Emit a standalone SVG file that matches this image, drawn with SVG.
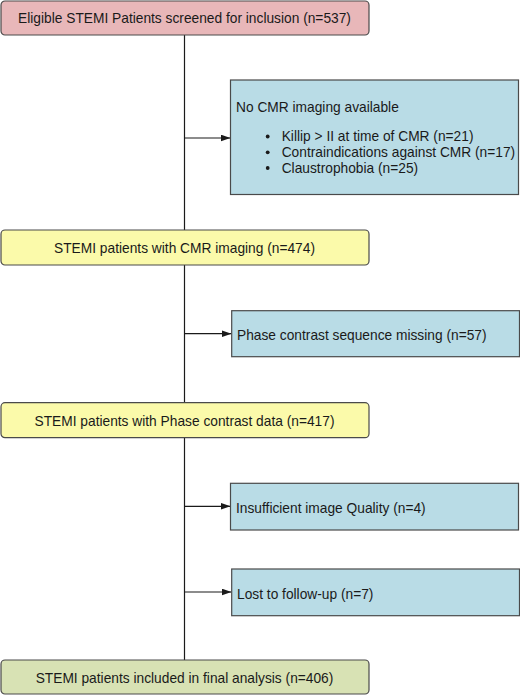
<svg xmlns="http://www.w3.org/2000/svg" width="520" height="695" viewBox="0 0 520 695">
<style>
text{font-family:"Liberation Sans",Arial,sans-serif;font-size:13.75px;fill:#1a1a1a}
.c{text-anchor:middle}
.box{stroke:#4a4a4a;stroke-width:1.2}
.pink{fill:#e8b7b9}
.yel{fill:#fbfaaa}
.blue{fill:#b9dce6}
.green{fill:#d8e2b4}
.ln{stroke:#1a1a1a;stroke-width:1.2;fill:none}
.dot{fill:#1a1a1a}
</style>
<defs>
<marker id="ah" markerWidth="10" markerHeight="7" refX="10" refY="3.5" orient="auto" markerUnits="userSpaceOnUse">
<path d="M0,0 L10,3.5 L0,7 Z" fill="#1a1a1a"/>
</marker>
</defs>
<g id="connectors">
<line class="ln" x1="184.5" y1="35" x2="184.5" y2="660"/>
<line class="ln" x1="184.5" y1="138" x2="230.5" y2="138" marker-end="url(#ah)"/>
<line class="ln" x1="184.5" y1="333.7" x2="231.5" y2="333.7" marker-end="url(#ah)"/>
<line class="ln" x1="184.5" y1="506.3" x2="230.5" y2="506.3" marker-end="url(#ah)"/>
<line class="ln" x1="184.5" y1="592" x2="231.5" y2="592" marker-end="url(#ah)"/>
</g>
<g id="n_screened">
<rect class="box pink" x="1" y="1" width="368" height="34" rx="4"/>
<text class="c" x="184.5" y="22.8">Eligible STEMI Patients screened for inclusion (n=537)</text>
</g>
<g id="n_nocmr">
<rect class="box blue" x="230.5" y="80" width="288" height="114.5"/>
<text x="236" y="111.8">No CMR imaging available</text>
<circle class="dot" cx="267.7" cy="136.5" r="1.9"/>
<circle class="dot" cx="267.7" cy="152.3" r="1.9"/>
<circle class="dot" cx="267.7" cy="168" r="1.9"/>
<text x="281.7" y="141.3">Killip &gt; II at time of CMR (n=21)</text>
<text x="281.7" y="157.2">Contraindications against CMR (n=17)</text>
<text x="281.7" y="173">Claustrophobia (n=25)</text>
</g>
<g id="n_cmr">
<rect class="box yel" x="1" y="230" width="368" height="35" rx="4"/>
<text class="c" x="184.5" y="253.2">STEMI patients with CMR imaging (n=474)</text>
</g>
<g id="n_phasemiss">
<rect class="box blue" x="231.7" y="310.7" width="287.8" height="46"/>
<text x="237" y="340">Phase contrast sequence missing (n=57)</text>
</g>
<g id="n_phase">
<rect class="box yel" x="1" y="402.7" width="368" height="35" rx="4"/>
<text class="c" x="184.5" y="425.8">STEMI patients with Phase contrast data (n=417)</text>
</g>
<g id="n_quality">
<rect class="box blue" x="230.5" y="483.3" width="288" height="46.7"/>
<text x="236" y="512.6">Insufficient image Quality (n=4)</text>
</g>
<g id="n_lost">
<rect class="box blue" x="231.7" y="569" width="287.8" height="46.7"/>
<text x="237" y="598.8">Lost to follow-up (n=7)</text>
</g>
<g id="n_final">
<rect class="box green" x="1" y="660" width="368" height="34" rx="4"/>
<text class="c" x="184.5" y="682.8">STEMI patients included in final analysis (n=406)</text>
</g>
</svg>
